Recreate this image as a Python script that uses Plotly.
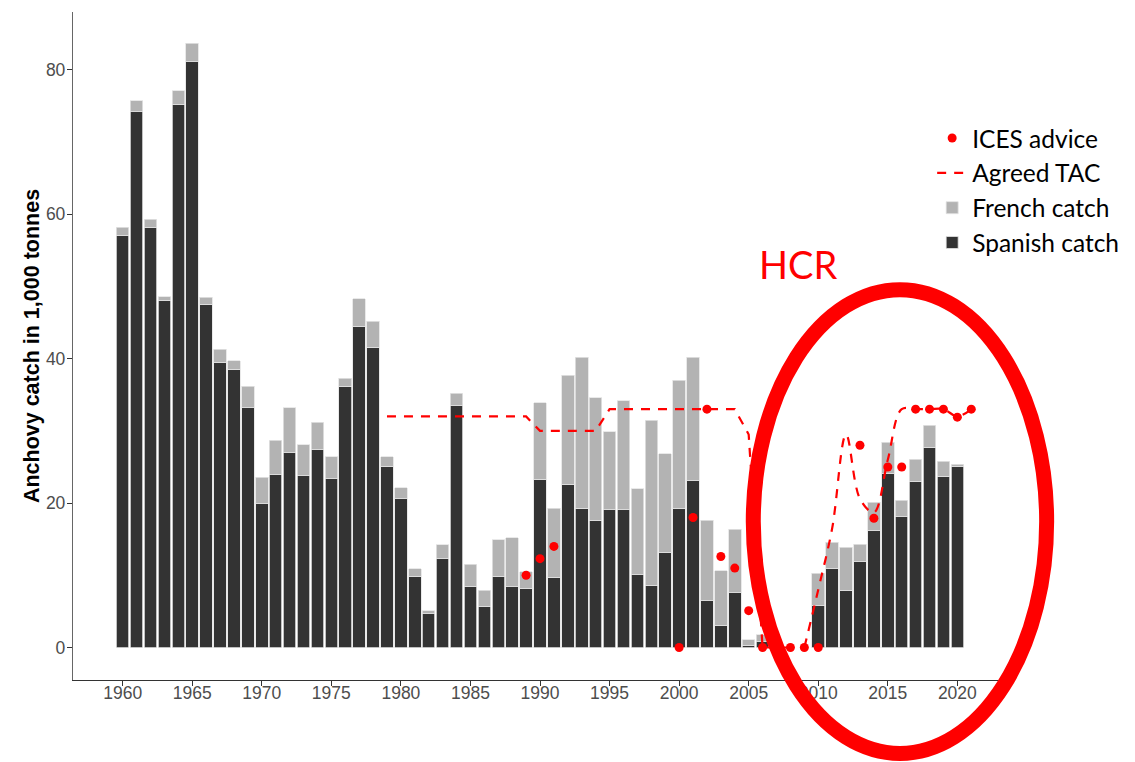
import plotly.graph_objects as go

# Bay of Biscay anchovy catches (1,000 t)
years = list(range(1960, 2021))
spanish_catch = [
    57.1, 74.2, 58.2, 48.1, 75.2, 81.1, 47.5, 39.5, 38.5, 33.2,
    19.9, 23.9, 27.0, 23.8, 27.4, 23.4, 36.2, 44.5, 41.6, 25.1,
    20.6, 9.9, 4.7, 12.3, 33.5, 8.5, 5.7, 9.9, 8.4, 8.2,
    23.3, 9.7, 22.6, 19.3, 17.6, 19.1, 19.1, 10.1, 8.6, 13.2,
    19.3, 23.1, 6.5, 3.1, 7.6, 0.3, 0.8, None, None, None,
    5.8, 10.9, 7.9, 11.9, 16.2, 24.1, 18.1, 23.0, 27.7, 23.7,
    25.1,
]
french_catch = [
    1.1, 1.5, 1.1, 0.5, 1.9, 2.6, 1.0, 1.8, 1.2, 3.0,
    3.7, 4.8, 6.2, 4.3, 3.8, 3.0, 1.1, 3.8, 3.6, 1.3,
    1.5, 1.0, 0.4, 1.9, 1.7, 3.0, 2.2, 5.0, 6.8, 2.3,
    10.6, 9.6, 15.1, 20.9, 17.0, 10.8, 15.1, 11.9, 22.9, 13.6,
    17.7, 17.1, 11.1, 7.5, 8.8, 0.8, 1.0, None, None, None,
    4.5, 3.7, 6.0, 2.4, 3.9, 4.3, 2.3, 3.1, 3.1, 2.1,
    0.3,
]

# ICES advice
ices_years = [1989, 1990, 1991, 2000, 2001, 2002, 2003, 2004, 2005, 2006,
              2007, 2008, 2009, 2010, 2013, 2014, 2015, 2016, 2017, 2018,
              2019, 2020, 2021]
ices_advice = [10.0, 12.3, 14.0, 0.0, 18.0, 33.0, 12.6, 11.0, 5.1, 0.0,
               0.0, 0.0, 0.0, 0.0, 28.0, 17.9, 25.0, 25.0, 33.0, 33.0,
               33.0, 31.9, 33.0]

# Agreed TAC, fixed period and harvest-control-rule period
tac_years_old = list(range(1979, 2010))
tac_old = [32, 32, 32, 32, 32, 32, 32, 32, 32, 32, 32,
           30, 30, 30, 30, 30,
           33, 33, 33, 33, 33, 33, 33, 33, 33, 33,
           29.5, 0, 0, 0, 0]
tac_years_hcr = list(range(2009, 2022))
tac_hcr = [0, 8.0, 16.5, 29.5, 20.6, 18.7, 26.0, 33, 33, 33, 33, 32, 33]

x_ticks = list(range(1960, 2021, 5))
y_ticks = [0, 20, 40, 60, 80]

RED = "#ff0000"
tick_font = dict(family="Liberation Sans, Arial, sans-serif", size=17.5, color="#4d4d4d")

fig = go.Figure()

fig.add_trace(go.Bar(
    x=years, y=spanish_catch, name="Spanish catch",
    marker=dict(color="#333333", line=dict(color="#e3e3e3", width=0.8)),
    width=0.9, legendgroup="spa", legendrank=4,
))
fig.add_trace(go.Bar(
    x=years, y=french_catch, name="French catch",
    marker=dict(color="#b3b3b3", line=dict(color="#e3e3e3", width=0.8)),
    width=0.9, legendgroup="fra", legendrank=3,
))
fig.add_trace(go.Scatter(
    x=tac_years_old, y=tac_old, mode="lines", name="Agreed TAC",
    line=dict(color=RED, width=2.2, dash="9px,8px"),
    legendgroup="tac", legendrank=2,
))
fig.add_trace(go.Scatter(
    x=tac_years_hcr, y=tac_hcr, mode="lines", name="Agreed TAC",
    line=dict(color=RED, width=2.2, dash="9px,8px", shape="spline", smoothing=1),
    legendgroup="tac", legendrank=2, showlegend=False,
))
fig.add_trace(go.Scatter(
    x=ices_years, y=ices_advice, mode="markers", name="ICES advice",
    marker=dict(color=RED, size=9),
    legendgroup="ices", legendrank=1,
))

# HCR ellipse and label (added on top of the chart)
fig.add_shape(
    type="circle", xref="paper", yref="paper",
    x0=0.7237, x1=1.0358, y0=-0.1099, y1=0.5843,
    line=dict(color=RED, width=15), layer="above",
)
fig.add_annotation(
    text="HCR", xref="paper", yref="paper", x=0.7713, y=0.6223,
    xanchor="center", yanchor="middle", showarrow=False,
    font=dict(family="Lato, sans-serif", size=38, color=RED),
)

# page body adds an 8px offset, so the figure is 8px smaller than the window
fig.update_layout(
    barmode="stack",
    width=1127, height=754,
    margin=dict(l=65, r=122, t=4, b=81.5),
    plot_bgcolor="white", paper_bgcolor="white",
    legend=dict(
        x=0.914, y=0.845, xanchor="left", yanchor="top",
        traceorder="grouped", tracegroupgap=0,
        font=dict(family="Lato, sans-serif", size=24.5, color="black"),
        bgcolor="rgba(0,0,0,0)",
    ),
)
fig.update_xaxes(
    range=[1956.43, 2024.0], tickvals=x_ticks, ticktext=[str(t) for t in x_ticks],
    showgrid=False, zeroline=False, showline=True, linecolor="#333333", linewidth=1.3,
    ticks="outside", ticklen=5, tickcolor="#333333", tickfont=tick_font,
    ticklabelstandoff=-8,
)
fig.update_yaxes(
    range=[-4.5, 88.0], tickvals=y_ticks, showgrid=False, zeroline=False,
    showline=True, linecolor="#666666", linewidth=1.3,
    ticks="outside", ticklen=5, tickcolor="#333333", tickfont=tick_font,
    ticklabelstandoff=-2,
    title=dict(text="Anchovy catch in 1,000 tonnes", standoff=0,
               font=dict(family="Liberation Sans, Arial, sans-serif", size=21.5,
                         color="black", weight="bold")),
)

fig.write_html("out.html")
